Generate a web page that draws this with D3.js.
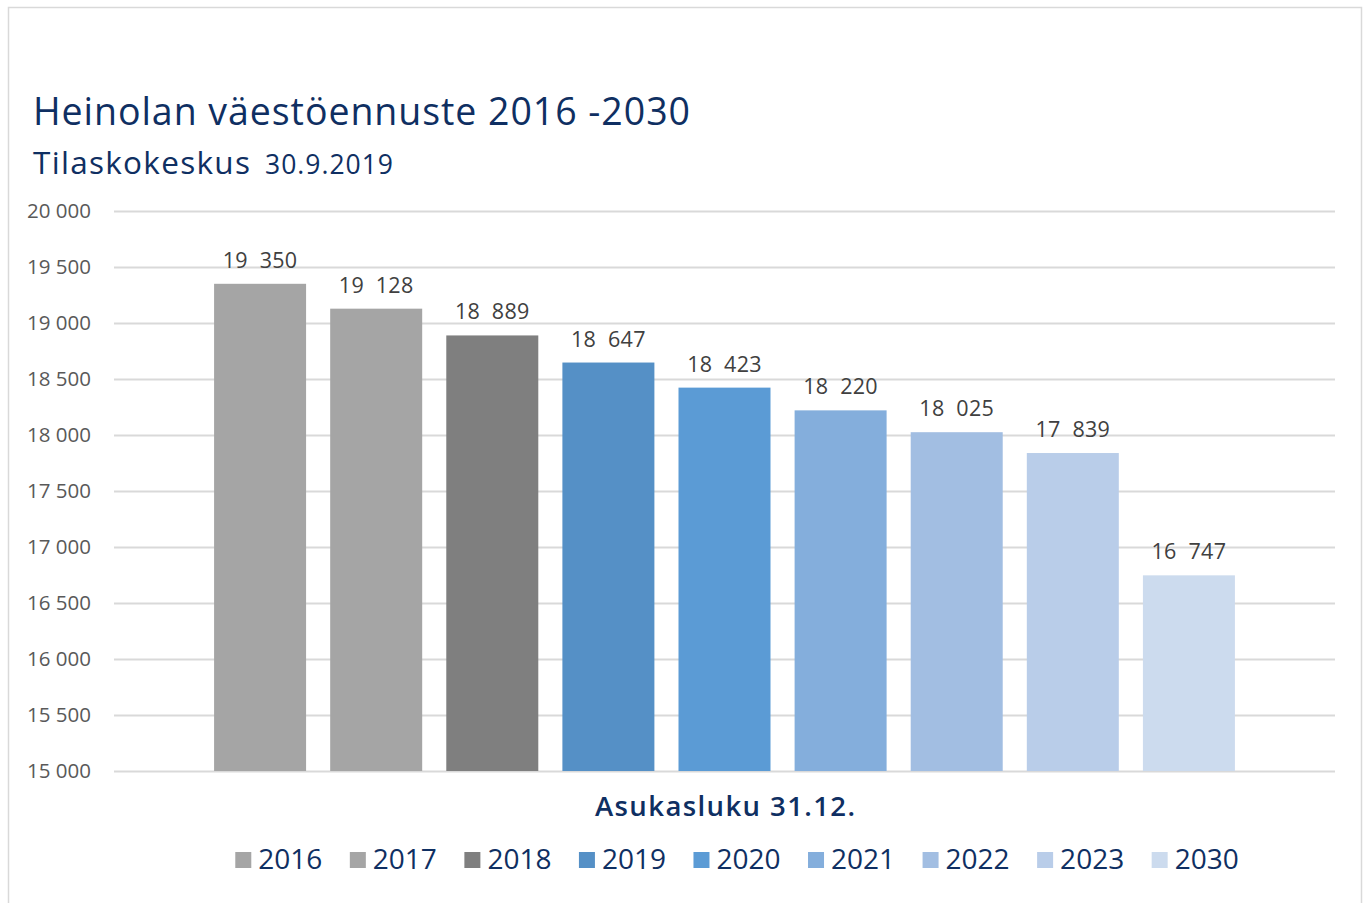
<!DOCTYPE html>
<html><head><meta charset="utf-8">
<script src="https://cdn.jsdelivr.net/npm/d3@7"></script>
<style>body{margin:0;background:#fff;}svg{display:block;}</style>
</head><body>
<svg id="c" width="1363" height="903"></svg>
<script>
const years = ["2016","2017","2018","2019","2020","2021","2022","2023","2030"];
const values = [19350,19128,18889,18647,18423,18220,18025,17839,16747];
const colors = ["#a5a5a5","#a5a5a5","#7f7f7f","#5590c6","#5b9bd5","#84aedc","#a2bee2","#b9cde9","#ccdbee"];
const yTicks = [15000,15500,16000,16500,17000,17500,18000,18500,19000,19500,20000];
const titleText = "Heinolan väestöennuste 2016 -2030";
const subtitleA = "Tilaskokeskus";
const subtitleB = "30.9.2019";
const axisTitle = "Asukasluku 31.12.";

const svg = d3.select("#c");
const navy = "#0f2f62";
const fmt = v => d3.format(",")(v).replace(/,/g, "\u00a0");

// frame
svg.append("rect").attr("x",8.5).attr("y",7.5).attr("width",1353).attr("height",910)
  .attr("fill","#fff").attr("stroke","#d9d9d9").attr("stroke-width",1.5);

// titles
svg.append("text").attr("x",33).attr("y",125).attr("fill",navy)
  .attr("font-family","Open Sans").attr("font-size",37.5)
  .attr("textLength",657).attr("lengthAdjust","spacing").text(titleText);
svg.append("text").attr("x",33).attr("y",174).attr("fill",navy)
  .attr("font-family","Open Sans").attr("font-size",31.5)
  .attr("textLength",217).attr("lengthAdjust","spacing").text(subtitleA);
svg.append("text").attr("x",265).attr("y",174).attr("fill",navy)
  .attr("font-family","Open Sans").attr("font-size",26.5)
  .attr("textLength",128).attr("lengthAdjust","spacing").text(subtitleB);

const x = d3.scaleBand().domain(years).range([114,1335]).paddingInner(0.2076).paddingOuter(0.862);
const y = d3.scaleLinear().domain([15000,20000]).range([771,211]);

// gridlines
const yAxis = d3.axisLeft(y).tickValues(yTicks).tickSize(-(1335-114)).tickFormat(fmt);
const ga = svg.append("g").attr("transform","translate(114,0)").call(yAxis);
ga.select(".domain").remove();
ga.selectAll(".tick line").attr("stroke","#d9d9d9").attr("stroke-width",2);
ga.selectAll(".tick text").attr("x",-23).attr("dy","0.33em").attr("fill","#595959")
  .attr("font-family","Open Sans").attr("font-size",20.5);

// bars
svg.append("g").selectAll("rect").data(years).join("rect")
  .attr("x",d=>x(d)).attr("width",x.bandwidth())
  .attr("y",(d,i)=>y(values[i])).attr("height",(d,i)=>y(15000)-y(values[i]))
  .attr("fill",(d,i)=>colors[i]);

// data labels
svg.append("g").selectAll("text").data(years).join("text")
  .attr("x",d=>x(d)+x.bandwidth()/2).attr("y",(d,i)=>y(values[i])-16)
  .attr("text-anchor","middle").attr("fill","#404040")
  .attr("font-family","Open Sans").attr("font-size",21.5)
  .attr("letter-spacing",0.3)
  .text((d,i)=>fmt(values[i]).replace("\u00a0","\u00a0\u00a0"));

// axis title
svg.append("text").attr("x",595).attr("y",816).attr("fill",navy)
  .attr("font-family","Open Sans").attr("font-weight",600).attr("font-size",27.5)
  .attr("textLength",260).attr("lengthAdjust","spacing").text(axisTitle);

// legend
const lg = svg.append("g");
const items = lg.selectAll("g").data(years).join("g");
items.append("rect").attr("width",16).attr("height",16).attr("y",-17).attr("fill",(d,i)=>colors[i]);
items.append("text").attr("x",23).attr("y",0).attr("fill",navy)
  .attr("font-family","Open Sans").attr("font-size",28).text(d=>d);
let cx = 0;
const pos = [];
const gap = 27.5;
items.each(function(d){ const w = this.querySelector("text").getComputedTextLength(); pos.push(cx); cx += 23 + w + gap; });
const total = cx - gap;
const start = 737 - total/2;
items.attr("transform",(d,i)=>`translate(${start+pos[i]},869)`);
</script>
</body></html>
